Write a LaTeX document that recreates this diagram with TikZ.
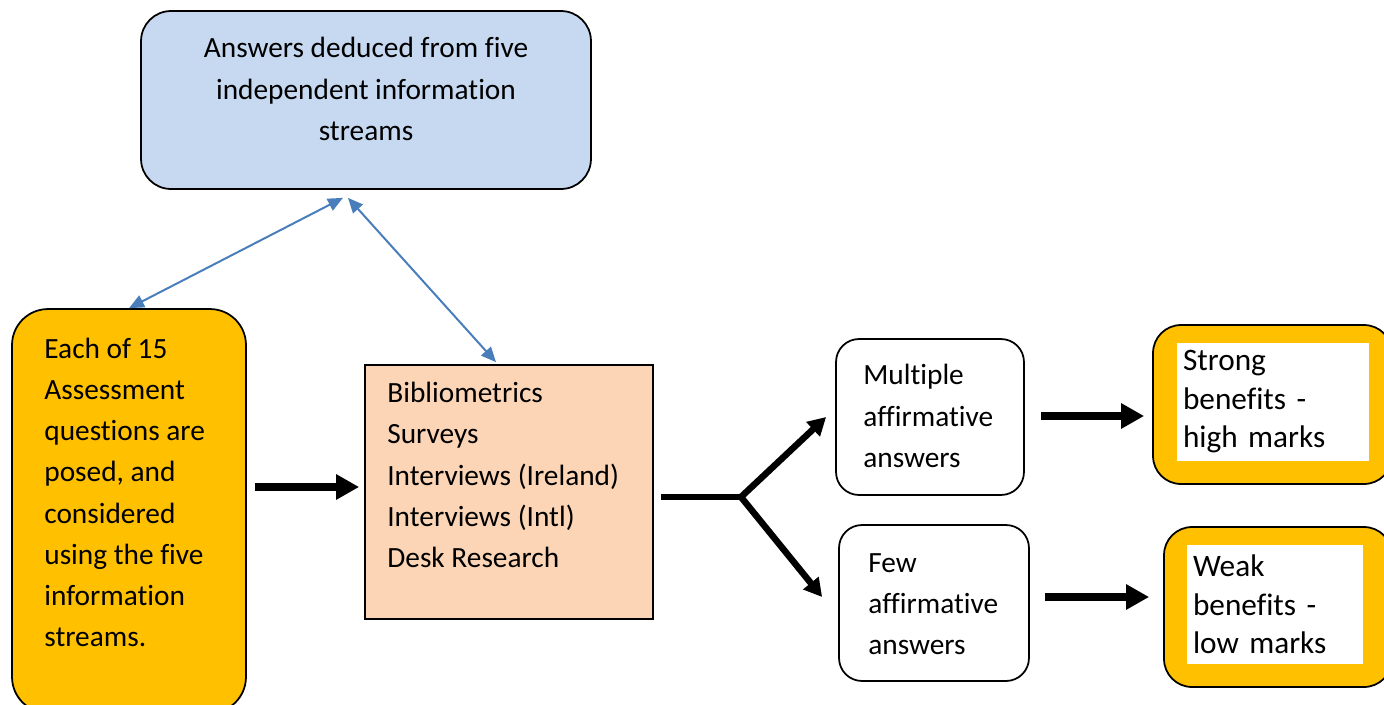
\documentclass[tikz,border=0pt]{standalone}
\usepackage{fontspec}
\setmainfont{Carlito}[Ligatures=NoCommon]
\usetikzlibrary{arrows.meta,calc}
\definecolor{streamblue}{HTML}{C6D9F1}
\definecolor{askorange}{HTML}{FFC000}
\definecolor{sourcepeach}{HTML}{FBD5B5}
\definecolor{linkblue}{HTML}{4A7EBB}
\newcommand{\bodysize}{\fontsize{16.7pt}{23.45pt}\selectfont}
\newcommand{\marksize}{\fontsize{17.8pt}{21.9pt}\selectfont}
\begin{document}
\begin{tikzpicture}[x=0.02cm, y=-0.02cm,
  panel/.style={draw=black, line width=1pt, inner sep=0pt},
  txt/.style={font=\bodysize, align=left, inner sep=0pt, anchor=west},
  marktxt/.style={font=\marksize, fill=white, align=left, inner xsep=0.12cm, inner ysep=0pt},
  bigarrow/.style={line width=0.16cm, -{Triangle[length=0.46cm,width=0.48cm]}},
  splitarrow/.style={line width=0.13cm, -{Triangle[length=0.36cm,width=0.38cm]}},
  linkarrow/.style={draw=linkblue, line width=0.04cm,
    {Triangle[length=0.3cm,width=0.26cm]}-{Triangle[length=0.3cm,width=0.26cm]}}]

\useasboundingbox (0,0) rectangle (1384,704);
\clip (0,0) rectangle (1384,704);

%=== TOP: the five streams ===
\node[panel, fill=streamblue, rounded corners=0.6cm, minimum width=9.0cm, minimum height=3.56cm] (top) at (366,100) {};
\node[font=\bodysize, align=center, inner sep=0pt] (toptext) at (366,89)
  {Answers deduced from five\\independent information\\streams};

%=== LEFT: questions and sources ===
\node[panel, fill=askorange, rounded corners=0.72cm, minimum width=4.68cm, minimum height=8.08cm] (qs) at (129,511) {};
\node[txt] (qstext) at (44,492.5)
  {Each of 15\\Assessment\\questions are\\posed, and\\considered\\using the five\\information\\streams.};

\node[panel, fill=sourcepeach, minimum width=5.76cm, minimum height=5.08cm] (src) at (509,492) {};
\node[txt] (srctext) at (387,475)
  {Bibliometrics\\Surveys\\Interviews (Ireland)\\Interviews (Intl)\\Desk Research};

%=== RIGHT: answers and marks ===
\node[panel, fill=white, rounded corners=0.46cm, minimum width=3.76cm, minimum height=3.12cm] (multi) at (930,417) {};
\node[txt] (multitext) at (863,416) {Multiple\\affirmative\\answers};

\node[panel, fill=white, rounded corners=0.46cm, minimum width=3.8cm, minimum height=3.12cm] (few) at (934,603) {};
\node[txt] (fewtext) at (868,604) {Few\\affirmative\\answers};

\node[panel, fill=askorange, rounded corners=0.56cm, minimum width=4.78cm, minimum height=3.18cm] (strong) at (1272.5,404.5) {};
\node[marktxt, text width=3.6cm, minimum height=2.36cm] (strongtext) at (1273,402) {Strong\\benefits -\\high marks};

\node[panel, fill=askorange, rounded corners=0.56cm, minimum width=4.56cm, minimum height=3.2cm] (weak) at (1278,607) {};
\node[marktxt, text width=3.28cm, minimum height=2.38cm] (weaktext) at (1275,604.5) {Weak\\benefits -\\low marks};

%=== Connectors ===
\draw[linkarrow] (qs.north) -- ($(top.south)+(-23,8)$);
\draw[linkarrow] ($(top.south)+(-18,8)$) -- ($(src.north)+(-13,-2)$);

\draw[bigarrow] ($(qs.east)+(8,-24)$) -- ($(src.west)+(-5,-5)$);

\coordinate (fork) at (741,497);
\draw[line width=0.13cm] ($(src.east)+(7,5)$) -- (fork);
\draw[splitarrow] (fork) -- ($(multi.west)+(-9,0)$);
\draw[splitarrow] (fork) -- ($(few.west)+(-16,-6)$);

\draw[bigarrow] ($(multi.east)+(16,-1)$) -- ($(strong.west |- multi.east)+(-8,-1)$);
\draw[bigarrow] ($(few.east)+(15,-6)$) -- ($(weak.west |- few.east)+(-14,-6)$);

\end{tikzpicture}
\end{document}
